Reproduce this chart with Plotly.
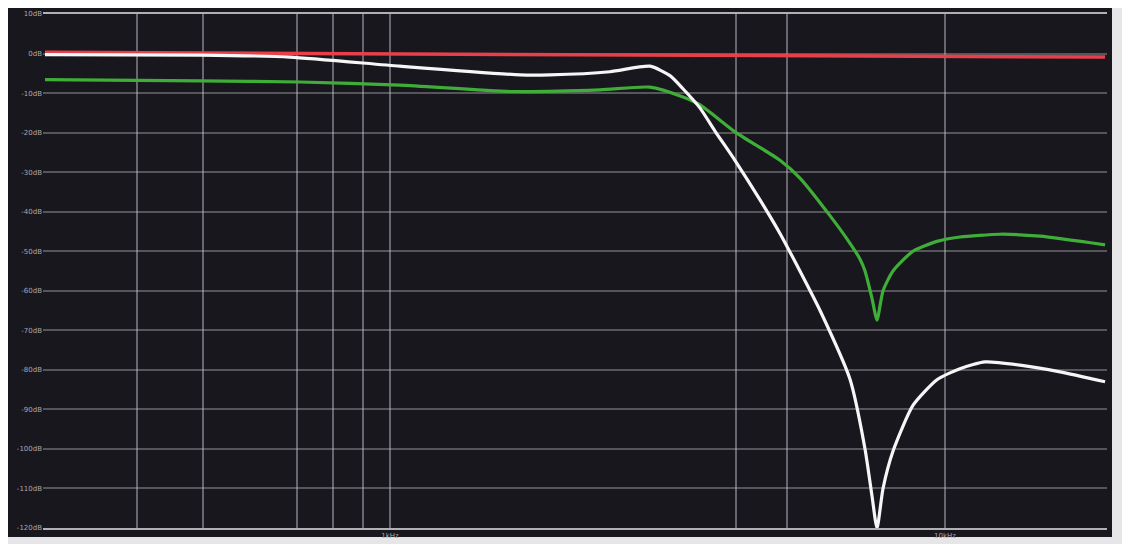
import plotly.graph_objects as go

# Frequencies (Hz) and magnitudes (dB)
white_freq = [239, 455, 660, 1042, 1715, 1942, 2491, 2941, 3195, 3372, 3620, 3851,
              4183, 4642, 5043, 5478, 5955, 6743, 7176, 7389, 7542, 7733, 8059,
              8755, 9674, 10641, 11806, 13648, 16118, 19427]
white_db = [-0.3, -0.4, -0.9, -3.2, -5.4, -5.4, -4.6, -3.2, -5.6, -8.9, -13.8, -19.6,
            -27.0, -37.0, -45.5, -55.0, -65.0, -82.4, -100.0, -112.0, -120.0, -110.0, -100.6,
            -89.0, -82.5, -79.7, -78.0, -78.8, -80.5, -83.0]

green_freq = [239, 455, 688, 1042, 1645, 2390, 2941, 3372, 3620, 4183, 5043, 5478,
              6205, 6743, 7029, 7176, 7389, 7542, 7733, 8059, 8755, 9674, 10641,
              12563, 14834, 19427]
green_db = [-6.6, -6.9, -7.2, -8.0, -9.6, -9.2, -8.5, -11.0, -13.0, -19.8, -27.0, -31.5,
            -41.0, -48.0, -52.0, -55.0, -62.0, -67.4, -60.0, -55.0, -50.0, -47.5, -46.4,
            -45.7, -46.2, -48.4]

red_freq = [239, 19427]
red_db = [0.3, -0.9]

grid_freq = [350, 460, 680, 790, 894, 1000, 4200, 5200, 10000]
grid_text = ["", "", "", "", "", "1kHz", "", "", "10kHz"]
y_ticks = list(range(10, -121, -10))
y_text = [f"{v}dB" for v in y_ticks]

fig = go.Figure()
fig.add_trace(go.Scatter(x=red_freq, y=red_db, mode="lines",
                         line=dict(color="#e8404a", width=3.5)))
fig.add_trace(go.Scatter(x=green_freq, y=green_db, mode="lines",
                         line=dict(color="#3fae38", width=3.2, shape="spline", smoothing=0.6)))
fig.add_trace(go.Scatter(x=white_freq, y=white_db, mode="lines",
                         line=dict(color="#f6f6f6", width=3.2, shape="spline", smoothing=0.6)))

fig.update_layout(
    width=1130, height=544,
    margin=dict(l=35, r=31, t=6, b=24, autoexpand=False),
    paper_bgcolor="#18171d",
    plot_bgcolor="rgba(0,0,0,0)",
    showlegend=False,
    shapes=[
        dict(type="rect", xref="paper", yref="paper",
             x0=1.0047, x1=1.1, y0=-0.2, y1=1.1,
             fillcolor="#e6e6e8", line=dict(width=0), layer="below"),
        dict(type="rect", xref="paper", yref="paper",
             x0=-0.1, x1=1.1, y0=-0.2, y1=-0.0175,
             fillcolor="#e6e6e8", line=dict(width=0), layer="below"),
    ],
    xaxis=dict(type="log", range=[2.3748, 4.2919], automargin=False,
               tickmode="array", tickvals=grid_freq, ticktext=grid_text,
               showgrid=True, gridcolor="rgba(200,200,210,0.45)", gridwidth=1.5,
               showline=True, linecolor="rgba(215,215,220,0.8)", linewidth=2, mirror=True,
               zeroline=False, ticks="",
               tickfont=dict(size=7, color="#a8a8b0", family="DejaVu Sans")),
    yaxis=dict(range=[-120, 10], tickmode="array", tickvals=y_ticks, ticktext=y_text,
               automargin=False,
               showgrid=True, gridcolor="rgba(200,200,210,0.35)", gridwidth=1.5,
               showline=False, zeroline=False, ticks="",
               tickfont=dict(size=7, color="#a8a8b0", family="DejaVu Sans")),
)

fig.write_html("out.html")
